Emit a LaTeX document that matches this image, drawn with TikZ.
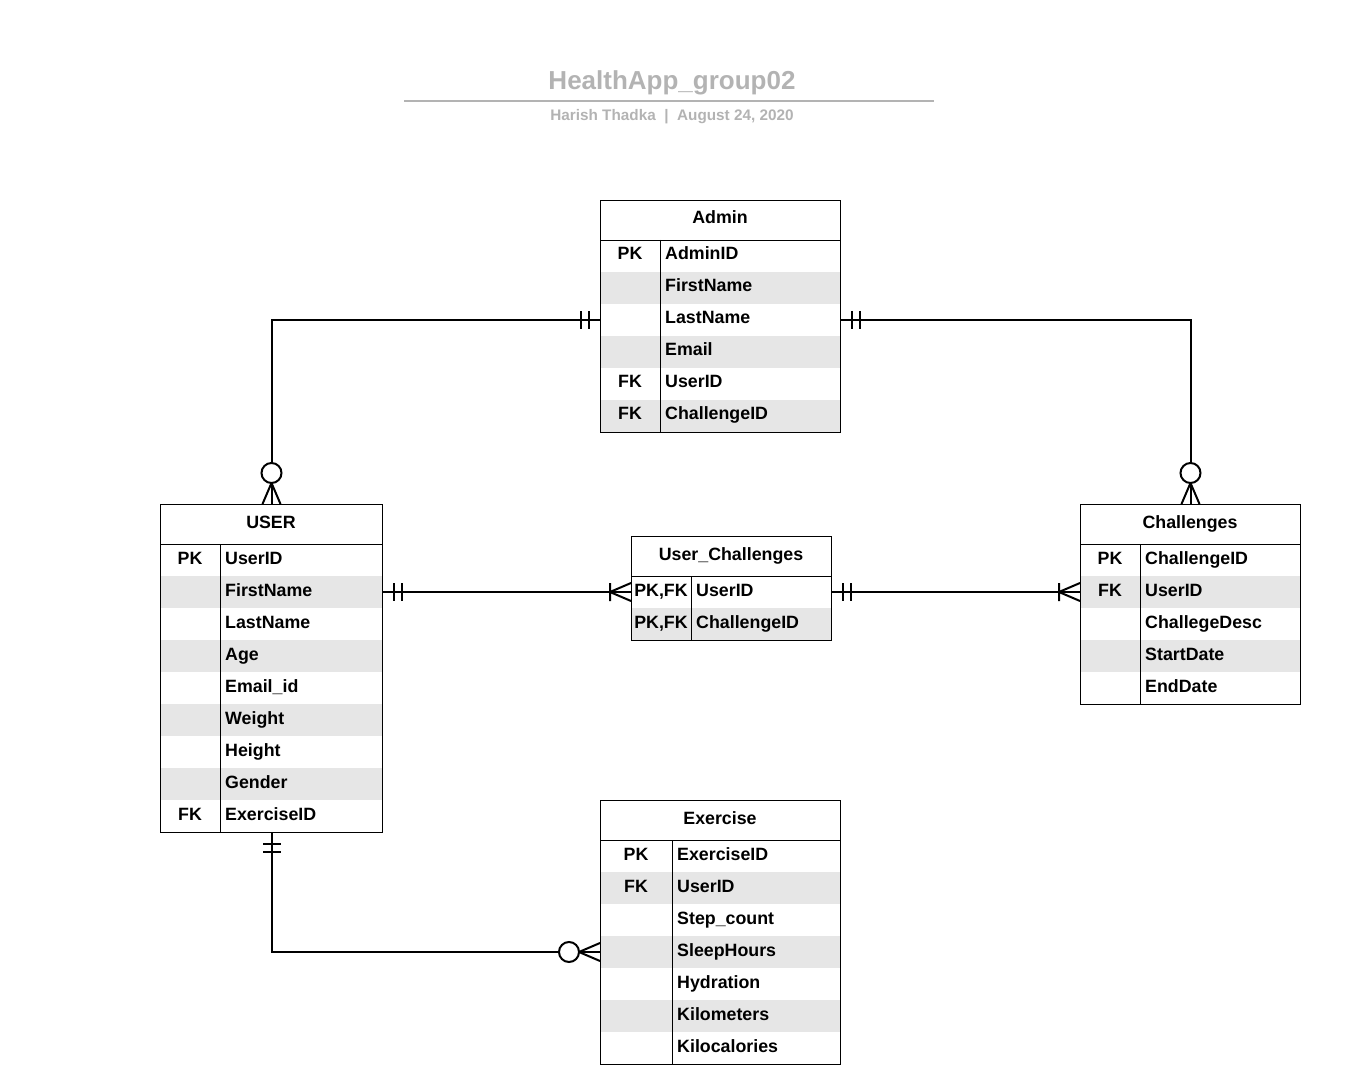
\documentclass[tikz,border=0pt]{standalone}
\usepackage{fontspec}
\setmainfont{Liberation Sans}
\definecolor{rowgray}{HTML}{E6E6E6}
\definecolor{titlegray}{HTML}{B3B3B3}

\begin{document}
\begin{tikzpicture}[x=1pt,y=-1pt,
  every node/.style={font=\fontsize{17.8}{20}\selectfont\bfseries,
    text height=12pt, text depth=4pt, inner sep=0pt},
  tbl/.style={draw, line width=1pt, anchor=north west},
  fldtxt/.style={anchor=west},
  link/.style={line width=2pt},
  onlyone/.pic={\draw[line width=2pt] (11,-9) -- (11,9) (19,-9) -- (19,9);},
  onemany/.pic={\draw[line width=2pt] (0,-9) -- (21,0) -- (0,9) (21,-9) -- (21,9);},
  zeromany/.pic={\draw[line width=2pt] (0,-9) -- (21,0) -- (0,9);
    \draw[line width=2pt, fill=white] (31,0) circle (10pt);}]
\useasboundingbox (0,0) rectangle (1369,1083);

% title block
\node[font=\fontsize{26}{30}\selectfont\bfseries, text=titlegray, anchor=base] (title) at (672,90) {HealthApp\_group02};
\draw[titlegray, line width=2pt] (404,101) -- (934,101);
\node[font=\fontsize{15.3}{18}\selectfont\bfseries, text=titlegray, anchor=base] (byline) at (672,121) {Harish Thadka~~|~~August 24, 2020};

% Admin
\foreach \k/\f [count=\i] in {PK/AdminID, {}/FirstName, {}/LastName, {}/Email, FK/UserID, FK/ChallengeID}{
  \pgfmathsetmacro\yc{240+32*\i-16}
  \ifodd\i\relax\else\fill[rowgray] (600,\yc-16) rectangle (840,\yc+16);\fi
  \node (admin-k\i) at (630,\yc) {\k};
  \node[fldtxt] (admin-f\i) at (665,\yc) {\f};
}
\node[tbl, minimum width=240pt, minimum height=232pt] (admin) at (600,200) {};
\node (admin-t) at (720,220) {Admin};
\draw (600,240) -- (840,240) (660,240) -- (660,432);

% USER
\foreach \k/\f [count=\i] in {PK/UserID, {}/FirstName, {}/LastName, {}/Age, {}/Email\_id, {}/Weight, {}/Height, {}/Gender, FK/ExerciseID}{
  \pgfmathsetmacro\yc{544+32*\i-16}
  \ifodd\i\relax\else\fill[rowgray] (160,\yc-16) rectangle (382,\yc+16);\fi
  \node (user-k\i) at (190,\yc) {\k};
  \node[fldtxt] (user-f\i) at (225,\yc) {\f};
}
\node[tbl, minimum width=222pt, minimum height=328pt] (user) at (160,504) {};
\node (user-t) at (271,524) {USER};
\draw (160,544) -- (382,544) (220,544) -- (220,832);

% User_Challenges
\foreach \k/\f [count=\i] in {{PK,FK}/UserID, {PK,FK}/ChallengeID}{
  \pgfmathsetmacro\yc{576+32*\i-16}
  \ifodd\i\relax\else\fill[rowgray] (631,\yc-16) rectangle (831,\yc+16);\fi
  \node (uc-k\i) at (661,\yc) {\k};
  \node[fldtxt] (uc-f\i) at (696,\yc) {\f};
}
\node[tbl, minimum width=200pt, minimum height=104pt] (uc) at (631,536) {};
\node (uc-t) at (731,556) {User\_Challenges};
\draw (631,576) -- (831,576) (691,576) -- (691,640);

% Challenges
\foreach \k/\f [count=\i] in {PK/ChallengeID, FK/UserID, {}/ChallegeDesc, {}/StartDate, {}/EndDate}{
  \pgfmathsetmacro\yc{544+32*\i-16}
  \ifodd\i\relax\else\fill[rowgray] (1080,\yc-16) rectangle (1300,\yc+16);\fi
  \node (chal-k\i) at (1110,\yc) {\k};
  \node[fldtxt] (chal-f\i) at (1145,\yc) {\f};
}
\node[tbl, minimum width=220pt, minimum height=200pt] (chal) at (1080,504) {};
\node (chal-t) at (1190,524) {Challenges};
\draw (1080,544) -- (1300,544) (1140,544) -- (1140,704);

% Exercise
\foreach \k/\f [count=\i] in {PK/ExerciseID, FK/UserID, {}/Step\_count, {}/SleepHours, {}/Hydration, {}/Kilometers, {}/Kilocalories}{
  \pgfmathsetmacro\yc{840+32*\i-16}
  \ifodd\i\relax\else\fill[rowgray] (600,\yc-16) rectangle (840,\yc+16);\fi
  \node (ex-k\i) at (636,\yc) {\k};
  \node[fldtxt] (ex-f\i) at (677,\yc) {\f};
}
\node[tbl, minimum width=240pt, minimum height=264pt] (ex) at (600,800) {};
\node (ex-t) at (720,820) {Exercise};
\draw (600,840) -- (840,840) (672,840) -- (672,1064);

% relations
\draw[link] (admin.west |- admin-f3) -| (user.north);
\pic[rotate=180] at (admin.west |- admin-f3) {onlyone};
\pic[rotate=90] at (user.north) {zeromany};

\draw[link] (admin.east |- admin-f3) -| (chal.north);
\pic at (admin.east |- admin-f3) {onlyone};
\pic[rotate=90] at (chal.north) {zeromany};

\draw[link] (user.east |- user-f2) -- (uc.west |- uc-f1);
\pic at (user.east |- user-f2) {onlyone};
\pic[rotate=180] at (uc.west |- uc-f1) {onemany};

\draw[link] (uc.east |- uc-f1) -- (chal.west |- chal-f2);
\pic at (uc.east |- uc-f1) {onlyone};
\pic[rotate=180] at (chal.west |- chal-f2) {onemany};

\draw[link] (user.south) |- (ex.west |- ex-f4);
\pic[rotate=-90] at (user.south) {onlyone};
\pic[rotate=180] at (ex.west |- ex-f4) {zeromany};
\end{tikzpicture}
\end{document}
